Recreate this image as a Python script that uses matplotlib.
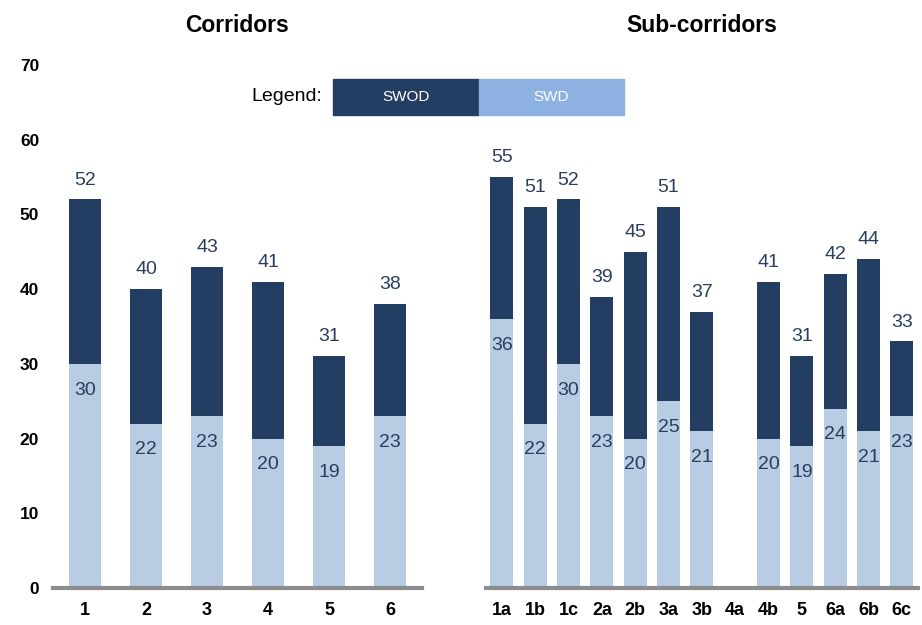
import matplotlib
matplotlib.use('Agg')
from matplotlib import pyplot as plt
from matplotlib.patches import Rectangle

plt.rcParams['font.family'] = ['Liberation Sans', 'DejaVu Sans']

# data
corridors = ['1', '2', '3', '4', '5', '6']
corr_swd = [30, 22, 23, 20, 19, 23]
corr_total = [52, 40, 43, 41, 31, 38]

subs = ['1a', '1b', '1c', '2a', '2b', '3a', '3b', '4a', '4b', '5', '6a', '6b', '6c']
sub_swd = [36, 22, 30, 23, 20, 25, 21, None, 20, 19, 24, 21, 23]
sub_total = [55, 51, 52, 39, 45, 51, 37, None, 41, 31, 42, 44, 33]

dark = '#233e62'
light = '#b8cce4'
legend_light = '#8db2e2'
label_col = '#2a3d5c'


def panel(ax, names, swd, total, width, title):
    for i, name in enumerate(names):
        if total[i] is None:
            continue
        ax.bar(i, swd[i], width, color=light)
        ax.bar(i, total[i] - swd[i], width, bottom=swd[i], color=dark)
        ax.text(i, total[i] + 2.6, str(total[i]), ha='center', va='center',
                fontsize=14, color=label_col)
        ax.text(i, swd[i] - 3.5, str(swd[i]), ha='center', va='center',
                fontsize=14, color=label_col)
    ax.set_xticks(range(len(names)))
    ax.set_xticklabels(names, fontsize=13, fontweight='bold')
    ax.set_ylim(0, 70)
    ax.set_yticks(range(0, 71, 10))
    for s in ['top', 'right', 'left']:
        ax.spines[s].set_visible(False)
    ax.spines['bottom'].set_color('#8c8c8c')
    ax.spines['bottom'].set_linewidth(3)
    ax.tick_params(length=0, pad=10)
    ax.set_title(title, fontsize=16.5, fontweight='bold', pad=24)


fig = plt.figure(figsize=(9.22, 6.25), dpi=100)
ax1 = fig.add_axes([0.0575, 0.0592, 0.40, 0.8368])
ax2 = fig.add_axes([0.527, 0.0592, 0.4685, 0.8368])

panel(ax1, corridors, corr_swd, corr_total, 0.52, 'Corridors')
panel(ax2, subs, sub_swd, sub_total, 0.69, 'Sub-corridors')
ax1.set_xlim(-0.525, 5.52)
ax2.set_xlim(-0.48, 12.48)

ax1.tick_params(axis='y', labelsize=12.5, pad=10)
for t in ax1.get_yticklabels():
    t.set_fontweight('bold')
ax2.set_yticklabels([])

# legend boxes
fig.add_artist(Rectangle((0.361, 0.816), 0.1585, 0.0576, transform=fig.transFigure,
                         color=dark))
fig.add_artist(Rectangle((0.5195, 0.816), 0.1573, 0.0576, transform=fig.transFigure,
                         color=legend_light))
fig.text(0.44, 0.845, 'SWOD', color='white', fontsize=11, ha='center', va='center')
fig.text(0.598, 0.845, 'SWD', color='white', fontsize=11, ha='center', va='center')
fig.text(0.349, 0.845, 'Legend:', color='black', fontsize=14, ha='right', va='center')

plt.savefig('out.png', dpi=100)
